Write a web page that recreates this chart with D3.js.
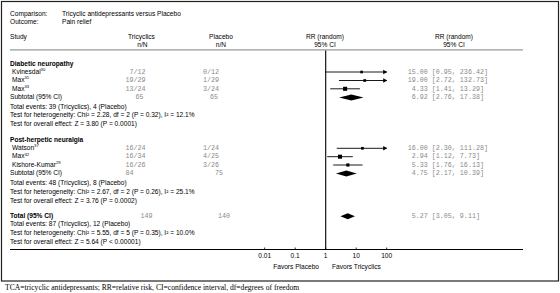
<!DOCTYPE html>
<html><head><meta charset="utf-8">
<script src="https://cdn.jsdelivr.net/npm/d3@7"></script>
<style>
html,body{margin:0;padding:0;background:#fff;}
svg text{font-family:"Liberation Sans",Arial,sans-serif;}
.mono{font-family:"Liberation Mono","Courier New",monospace;fill:#8a8a8a;white-space:pre;}
</style></head>
<body>
<svg id="c" width="560" height="293"></svg>
<script>
// ---- data ----
const groupNames = ["Diabetic neuropathy", "Post-herpetic neuralgia"];
const studies = ["Kvinesdal", "Max", "Max", "Watson", "Max", "Kishore-Kumar"];
const refs = ["30", "31", "33", "37", "32", "29"];
const studyGroup = [0, 0, 0, 1, 1, 1];
const tcaEvents = [7, 19, 13, 16, 16, 16];
const tcaN = [12, 29, 24, 24, 34, 26];
const placEvents = [0, 1, 3, 1, 4, 3];
const placN = [12, 29, 24, 24, 25, 26];
const rr = [15.00, 19.00, 4.33, 16.00, 2.94, 5.33];
const rrLo = [0.95, 2.72, 1.41, 2.30, 1.12, 1.76];
const rrHi = [236.42, 132.73, 13.29, 111.28, 7.73, 16.13];
const weight = [5, 6, 30, 6, 30, 12];
const subRR = [6.92, 4.75], subLo = [2.76, 2.17], subHi = [17.38, 10.39];
const subTcaN = [65, 84], subPlacN = [65, 75];
const subTcaEv = [39, 48], subPlacEv = [4, 8];
const subChi = ["2.28", "2.67"], subDf = [2, 2], subP = ["0.32", "0.26"], subI2 = ["12.1", "25.1"];
const subZ = ["3.80", "3.76"], subPz = ["= 0.0001", "= 0.0002"];
const totRR = 5.27, totLo = 3.05, totHi = 9.11, totTcaN = 149, totPlacN = 140;
const totTcaEv = 87, totPlacEv = 12, totChi = "5.55", totDf = 5, totP = "0.35", totI2 = "10.0", totZ = "5.64", totPz = "< 0.00001";
const ticks = [0.01, 0.1, 1, 10, 100];
const tickLabels = ["0.01", "0.1", "1", "10", "100"];

// ---- layout ----
const svg = d3.select("#c");
const FS = 6.6, MFS = 6.7;
const x = d3.scaleLog().domain([0.01, 100]).range([264.7, 386.7]);
const clip = v => Math.max(0.01, Math.min(100, v));
const fmt = d3.format(".2f");
const pad5 = v => { const s = fmt(v); return s.length < 5 ? " " + s : s; };

// frame
svg.append("rect").attr("x", 1.5).attr("y", 1.5).attr("width", 557).attr("height", 279.5)
  .attr("fill", "none").attr("stroke", "#222").attr("stroke-width", 1.2);

function txt(xp, yp, s, o = {}) {
  const t = svg.append("text").attr("x", xp).attr("y", yp).attr("font-size", o.fs || FS)
    .attr("text-anchor", o.anchor || "start").attr("dominant-baseline", "middle").text(s);
  if (o.bold) t.attr("font-weight", "bold");
  if (o.cls) t.attr("class", o.cls);
  return t;
}

txt(10, 14.5, "Comparison:"); txt(62, 14.5, "Tricyclic antidepressants versus Placebo");
txt(10, 22.7, "Outcome:"); txt(62, 22.7, "Pain relief");
txt(10, 37.3, "Study");
txt(141.5, 37.3, "Tricyclics", {anchor: "middle"}); txt(142.5, 45, "n/N", {anchor: "middle"});
txt(221, 37.3, "Placebo", {anchor: "middle"}); txt(221, 45, "n/N", {anchor: "middle"});
txt(325, 37.3, "RR (random)", {anchor: "middle"}); txt(325, 45, "95% CI", {anchor: "middle"});
txt(454, 37.3, "RR (random)", {anchor: "middle"}); txt(454, 45, "95% CI", {anchor: "middle"});

svg.append("line").attr("x1", 10).attr("x2", 523).attr("y1", 49.8).attr("y2", 49.8)
  .attr("stroke", "#999").attr("stroke-width", 1.3);

// rows
const studyY = [72, 80.5, 88.8, 148.3, 156.7, 165];
const groupY = [64.3, 140.3];
const subY = [97.4, 173.6];
const subTcaX = [143.5, 133.5], subPlacX = [218, 223];

function ciText(yp, r, l, h) {
  txt(407.7, yp, pad5(r) + " [" + fmt(l) + ", " + fmt(h) + "]", {cls: "mono", fs: MFS});
}
function diamond(yp, r, l, h) {
  const p = [[x(l), yp], [x(r), yp - 3], [x(h), yp], [x(r), yp + 3]];
  svg.append("path").attr("d", "M" + p.join("L") + "Z").attr("fill", "#000");
}

groupNames.forEach((g, gi) => {
  txt(10, groupY[gi], g, {bold: true});
  txt(10, subY[gi], "Subtotal (95% CI)");
  txt(subTcaX[gi], subY[gi], String(subTcaN[gi]), {cls: "mono", fs: MFS, anchor: "end"});
  txt(subPlacX[gi], subY[gi], String(subPlacN[gi]), {cls: "mono", fs: MFS, anchor: "end"});
  ciText(subY[gi], subRR[gi], subLo[gi], subHi[gi]);
  diamond(subY[gi], subRR[gi], subLo[gi], subHi[gi]);
  const y0 = subY[gi];
  txt(10, y0 + 9.5, "Total events: " + subTcaEv[gi] + " (Tricyclics), " + subPlacEv[gi] + " (Placebo)");
  txt(10, y0 + 18.3, "Test for heterogeneity: Chi\u00B2 = " + subChi[gi] + ", df = " + subDf[gi] + " (P = " + subP[gi] + "), I\u00B2 = " + subI2[gi] + "%");
  txt(10, y0 + 27.2, "Test for overall effect: Z = " + subZ[gi] + " (P " + subPz[gi] + ")");
});

studies.forEach((s, i) => {
  const yp = studyY[i];
  const t = txt(12, yp, s);
  t.append("tspan").attr("font-size", 4.2).attr("dy", -2.2).text(refs[i]);
  txt(145.5, yp, tcaEvents[i] + "/" + tcaN[i], {cls: "mono", fs: MFS, anchor: "end"});
  txt(219, yp, placEvents[i] + "/" + placN[i], {cls: "mono", fs: MFS, anchor: "end"});
  ciText(yp, rr[i], rrLo[i], rrHi[i]);
  const xl = x(clip(rrLo[i])), xh = x(clip(rrHi[i]));
  svg.append("line").attr("x1", xl).attr("x2", xh).attr("y1", yp).attr("y2", yp)
    .attr("stroke", "#000").attr("stroke-width", 0.9);
  if (rrHi[i] > 100) {
    svg.append("path").attr("d", `M${xh + 0.5},${yp}L${xh - 3.5},${yp - 2.2}L${xh - 3.5},${yp + 2.2}Z`).attr("fill", "#000");
  }
  if (rrLo[i] < 0.01) {
    svg.append("path").attr("d", `M${xl - 0.5},${yp}L${xl + 3.5},${yp - 2.2}L${xl + 3.5},${yp + 2.2}Z`).attr("fill", "#000");
  }
  const sz = 1.6 + Math.sqrt(weight[i]) * 0.45;
  svg.append("rect").attr("x", x(rr[i]) - sz / 2).attr("y", yp - sz / 2).attr("width", sz).attr("height", sz).attr("fill", "#000");
});

// total
const ty = 216.3;
txt(10, ty, "Total (95% CI)", {bold: true});
txt(152.5, ty, String(totTcaN), {cls: "mono", fs: MFS, anchor: "end"});
txt(230, ty, String(totPlacN), {cls: "mono", fs: MFS, anchor: "end"});
ciText(ty, totRR, totLo, totHi);
diamond(ty, totRR, totLo, totHi);
txt(10, 224.5, "Total events: " + totTcaEv + " (Tricyclics), " + totPlacEv + " (Placebo)");
txt(10, 233.3, "Test for heterogeneity: Chi\u00B2 = " + totChi + ", df = " + totDf + " (P = " + totP + "), I\u00B2 = " + totI2 + "%");
txt(10, 242, "Test for overall effect: Z = " + totZ + " (P " + totPz + ")");

// null line
svg.append("line").attr("x1", x(1)).attr("x2", x(1)).attr("y1", 50.5).attr("y2", 249.5)
  .attr("stroke", "#000").attr("stroke-width", 1.1);

// axis
svg.append("line").attr("x1", 10).attr("x2", 523).attr("y1", 249.5).attr("y2", 249.5)
  .attr("stroke", "#000").attr("stroke-width", 1.1);
ticks.forEach((t, i) => {
  svg.append("line").attr("x1", x(t)).attr("x2", x(t)).attr("y1", 247.5).attr("y2", 249.5)
    .attr("stroke", "#000").attr("stroke-width", 0.8);
  txt(x(t), 256.5, tickLabels[i], {anchor: "middle"});
});
txt(319, 267, "Favors Placebo", {anchor: "end"});
txt(332, 267, "Favors Tricyclics");

// caption
svg.append("text").attr("x", 5).attr("y", 288.5).attr("font-size", 7.6)
  .attr("dominant-baseline", "middle").style("font-family", "'Liberation Serif','Times New Roman',serif")
  .text("TCA=tricyclic antidepressants; RR=relative risk, CI=confidence interval, df=degrees of freedom");
</script>
</body></html>
